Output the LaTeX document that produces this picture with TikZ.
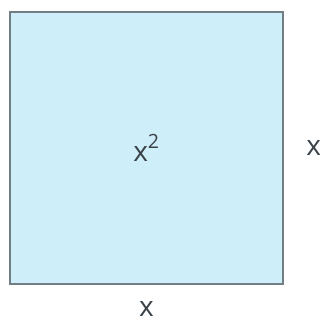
\documentclass[tikz,border=0pt]{standalone}
\usepackage{fontspec}
\setmainfont{Open Sans}
\usepackage{tikz}
\definecolor{hellblau}{RGB}{206,238,249}
\definecolor{randgrau}{RGB}{112,126,133}
\definecolor{schrift}{RGB}{58,66,72}
\usetikzlibrary{positioning}

\begin{document}
\begin{tikzpicture}[quadrat/.style={draw=randgrau, fill=hellblau, line width=2.5pt, minimum width=273pt, minimum height=272pt, inner sep=0pt},
				seite/.style={inner sep=0pt, text=schrift},
				x=1pt, y=1pt,
				font=\fontsize{28}{30}\selectfont]
				%Bildbereich
				\useasboundingbox (0,0) rectangle (320,327);
				%Quadrat zeichnen
				\node[quadrat, text=schrift] (quad) at (146.5,179) {x\raisebox{4pt}{\textsuperscript{2}}};
				%Seiten beschriften
				\node[seite, right=22pt of quad] (rechts) {x};
				\node[seite, below=16pt of quad] (unten) {x};
			\end{tikzpicture}
\end{document}
